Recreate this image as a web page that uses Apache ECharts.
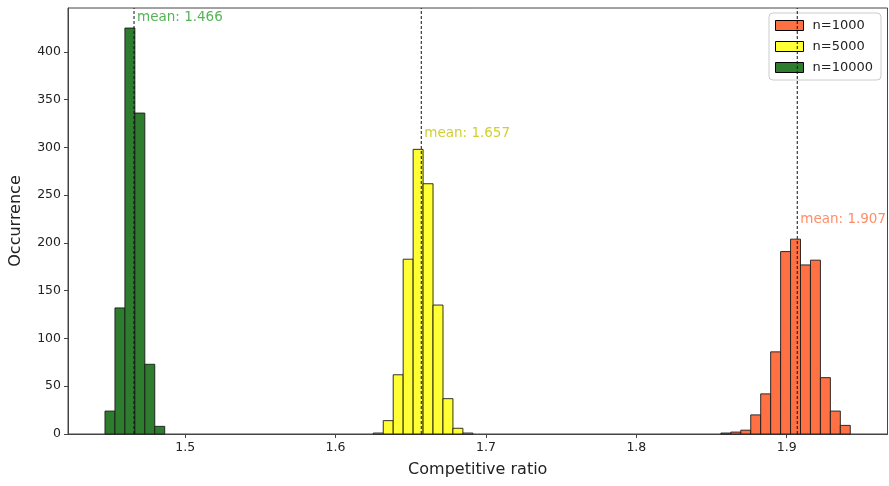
<!DOCTYPE html>
<html>
<head>
<meta charset="utf-8">
<script src="https://cdn.jsdelivr.net/npm/echarts@6/dist/echarts.min.js"></script>
<style>
html,body{margin:0;padding:0;background:#fff;}
#chart{width:889px;height:486px;}
</style>
</head>
<body>
<div id="chart"></div>
<script>
// ---- data ----
const seriesNames = ['n=1000', 'n=5000', 'n=10000'];
const binWidth = 0.00662;
const binStart1000 = 1.8562;
const counts1000 = [1, 2, 4, 20, 42, 86, 191, 204, 177, 182, 59, 24, 9];
const binStart5000 = 1.6251;
const counts5000 = [1, 14, 62, 183, 298, 262, 135, 37, 6, 1];
const binStart10000 = 1.4467;
const counts10000 = [24, 132, 425, 336, 73, 8];
const means = [1.907, 1.657, 1.466];
const meanLabelY = [225, 315, 436];
const xTicks = [1.5, 1.6, 1.7, 1.8, 1.9];
const yTicks = [0, 50, 100, 150, 200, 250, 300, 350, 400];
const xMin = 1.4221, xMax = 1.967, yMax = 446;

const barColors = ['#FF7043', '#FFFF33', '#2E7D2E'];
const labelColors = ['#FF7043', '#C4C400', '#2CA02C'];
const FONT = 'DejaVu Sans';

function bins(start, counts) {
  return counts.map((c, i) => [start + i * binWidth, start + (i + 1) * binWidth, c]);
}
const histData = [bins(binStart1000, counts1000), bins(binStart5000, counts5000), bins(binStart10000, counts10000)];

const chart = echarts.init(document.getElementById('chart'));
const series = [];
histData.forEach((d, k) => {
  series.push({
    name: seriesNames[k],
    type: 'custom',
    data: d,
    encode: { x: [0, 1], y: 2 },
    itemStyle: { color: barColors[k], borderColor: '#000', borderWidth: 1 },
    renderItem: function (params, api) {
      const p0 = api.coord([api.value(0), 0]);
      const p1 = api.coord([api.value(1), api.value(2)]);
      return {
        type: 'rect',
        shape: { x: p0[0], y: p1[1], width: p1[0] - p0[0], height: p0[1] - p1[1] },
        style: { fill: barColors[k], stroke: '#1a1a1a', lineWidth: 0.9 }
      };
    },
    z: 2
  });
});
means.forEach((m, k) => {
  series.push({
    type: 'line',
    data: [[m, 0], [m, yMax]],
    symbol: 'none',
    silent: true,
    lineStyle: { color: '#111', width: 1, type: [3, 2] },
    z: 5
  });
  series.push({
    type: 'scatter',
    data: [[m, meanLabelY[k]]],
    symbolSize: 0,
    silent: true,
    label: {
      show: true,
      position: 'right',
      distance: 3,
      formatter: 'mean: ' + m.toFixed(3),
      color: labelColors[k],
      fontFamily: FONT,
      fontSize: 13.5
    },
    z: 6
  });
});

chart.setOption({
  animation: false,
  backgroundColor: '#fff',
  textStyle: { fontFamily: FONT },
  grid: {
    left: 67, right: 1.5, top: 8, bottom: 52,
    show: true, borderColor: '#444', borderWidth: 1, backgroundColor: 'transparent'
  },
  legend: {
    data: seriesNames.map(n => ({ name: n, icon: 'rect' })),
    orient: 'vertical',
    right: 8, top: 13,
    padding: [6, 8, 6, 6],
    itemGap: 8,
    itemWidth: 28, itemHeight: 10,
    backgroundColor: 'rgba(255,255,255,0.85)',
    borderColor: '#ccc', borderWidth: 1, borderRadius: 4,
    textStyle: { fontFamily: FONT, fontSize: 13, color: '#222', padding: [0, 0, 0, 4] },
    itemStyle: { borderColor: '#000', borderWidth: 1 }
  },
  xAxis: {
    type: 'value',
    min: xMin, max: xMax,
    name: 'Competitive ratio',
    nameLocation: 'middle',
    nameGap: 28,
    nameTextStyle: { fontFamily: FONT, fontSize: 16, color: '#222' },
    axisLine: { show: true, lineStyle: { color: '#444', width: 1 } },
    axisTick: { show: true, length: 4, customValues: xTicks, lineStyle: { color: '#444' } },
    axisLabel: { customValues: xTicks, margin: 7, fontFamily: FONT, fontSize: 12.5, color: '#222',
      formatter: v => v.toFixed(1) },
    splitLine: { show: false }
  },
  yAxis: {
    type: 'value',
    min: 0, max: yMax,
    name: 'Occurrence',
    nameLocation: 'middle',
    nameRotate: 90,
    nameGap: 44,
    nameTextStyle: { fontFamily: FONT, fontSize: 16, color: '#222' },
    axisLine: { show: true, lineStyle: { color: '#444', width: 1 } },
    axisTick: { show: true, length: 4, customValues: yTicks, lineStyle: { color: '#444' } },
    axisLabel: { customValues: yTicks, margin: 7, fontFamily: FONT, fontSize: 12.5, color: '#222' },
    splitLine: { show: false }
  },
  series: series
});
</script>
</body>
</html>
